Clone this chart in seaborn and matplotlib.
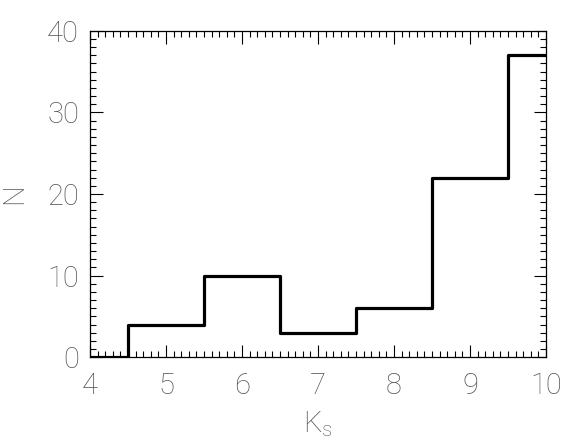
import numpy as np
import pandas as pd
import seaborn as sns
import matplotlib.pyplot as plt
from matplotlib.ticker import MultipleLocator

# 直方图数据（每个 Ks 星等区间的计数）
ks_centers = [4, 5, 6, 7, 8, 9, 10]
counts = [0, 4, 10, 3, 6, 22, 37]

df = pd.DataFrame({'Ks': ks_centers, 'N': counts})

sns.set_theme(style="ticks")
plt.rcParams['font.family'] = ['Roboto', 'DejaVu Sans']
plt.rcParams['font.weight'] = 'light'
plt.rcParams['axes.labelweight'] = 'light'
plt.rcParams['mathtext.fontset'] = 'custom'
plt.rcParams['mathtext.rm'] = 'Roboto:light'

text_color = '#555555'

fig = plt.figure(figsize=(5.7, 4.47), dpi=100)
ax = fig.add_axes([0.158, 0.201, 0.800, 0.730])

# 阶梯图
sns.lineplot(data=df, x='Ks', y='N', drawstyle='steps-mid', color='black',
             linewidth=2.3, ax=ax)

ax.set_xlim(4, 10)
ax.set_ylim(0, 40)

ax.xaxis.set_major_locator(MultipleLocator(1))
ax.xaxis.set_minor_locator(MultipleLocator(0.1))
ax.yaxis.set_major_locator(MultipleLocator(10))
ax.yaxis.set_minor_locator(MultipleLocator(1))

ax.tick_params(which='both', direction='in', top=True, right=True,
               color='black', width=0.8, labelsize=21, labelcolor=text_color)
ax.tick_params(axis='x', which='both', pad=11)
ax.tick_params(axis='y', which='both', pad=8)
ax.tick_params(which='major', length=9)
ax.tick_params(which='minor', length=4)

for s in ax.spines.values():
    s.set_color('black')
    s.set_linewidth(0.9)

ax.set_xlabel(r'K$_\mathrm{s}$', fontsize=21, color=text_color, labelpad=6)
ax.set_ylabel('N', fontsize=21, color=text_color, rotation=90, labelpad=14)

fig.savefig('out.png', dpi=100)
